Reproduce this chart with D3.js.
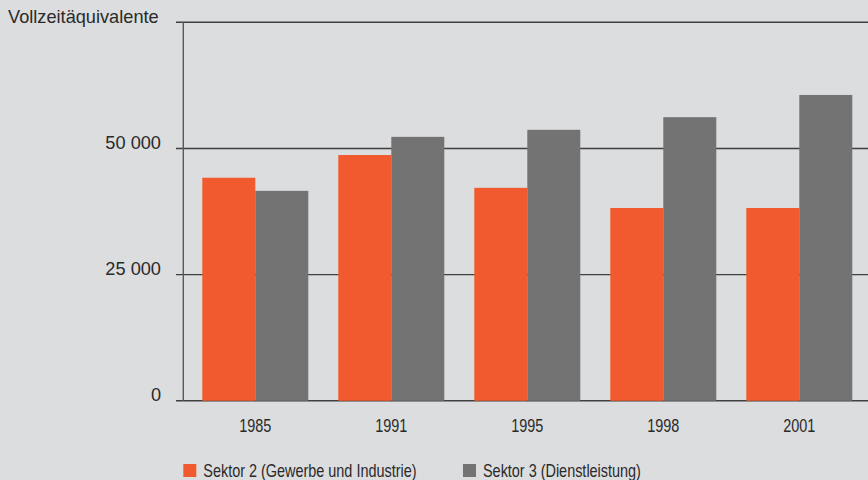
<!DOCTYPE html>
<html>
<head>
<meta charset="utf-8">
<script src="https://cdn.jsdelivr.net/npm/d3@7"></script>
<style>
  html, body { margin: 0; padding: 0; background: #dcdddf; }
  svg { display: block; }
  .tick-label { font-family: "Liberation Sans", Arial, sans-serif; font-size: 18.2px; fill: #2a2a2a; }
  .cond { font-family: "Liberation Sans", Arial, sans-serif; font-size: 18.5px; fill: #2a2a2a; }
</style>
</head>
<body>
<svg id="chart" width="868" height="480"></svg>
<script>
// Beschäftigte in Vollzeitäquivalenten nach Sektor
const years = ["1985", "1991", "1995", "1998", "2001"];
const sektor2 = [44200, 48700, 42200, 38200, 38200];
const sektor3 = [41600, 52300, 53700, 56200, 60600];
const yTicks = [0, 25000, 50000, 75000];
const seriesNames = ["Sektor 2 (Gewerbe und Industrie)", "Sektor 3 (Dienstleistung)"];
const seriesColors = ["#f15a2e", "#737373"];

const svg = d3.select("#chart");
const W = 868;
const x0 = 183.3, yBase = 400.8, yTop = 22.3;
const condense = 0.78; // schmale Schrift für Jahre und Legende

const y = d3.scaleLinear().domain([0, 75000]).range([yBase, yTop]);
const step = 136, gap = 30, lead = 19;
const x = d3.scaleBand().domain(years)
  .range([x0 + lead, x0 + lead + years.length * step - gap])
  .paddingInner(gap / step).paddingOuter(0);
const xs = d3.scaleBand().domain([0, 1]).range([0, x.bandwidth()]);

const fmt = v => d3.format(",")(v).replace(/,/g, " ");

// Gitterlinien mit kurzen Ticks links der Achse
svg.append("g").selectAll("line").data(yTicks).join("line")
  .attr("x1", 176).attr("x2", W)
  .attr("y1", d => y(d)).attr("y2", d => y(d))
  .attr("stroke", "#3f3f41").attr("stroke-width", 1.4);

// Beschriftung der y-Achse (oberste Linie ohne Zahl)
svg.append("g").selectAll("text").data(yTicks.filter(d => d < 75000)).join("text")
  .attr("class", "tick-label")
  .attr("x", 161).attr("y", d => y(d) + 0.5)
  .attr("text-anchor", "end")
  .text(d => fmt(d));

svg.append("text").attr("class", "tick-label")
  .attr("x", 8).attr("y", 23).text("Vollzeitäquivalente");

// Balken
const groups = svg.append("g").selectAll("g").data(years).join("g")
  .attr("transform", d => `translate(${x(d)},0)`);
groups.selectAll("rect")
  .data((d, i) => [sektor2[i], sektor3[i]])
  .join("rect")
  .attr("x", (d, j) => xs(j))
  .attr("width", xs.bandwidth())
  .attr("y", d => y(d))
  .attr("height", d => yBase - y(d))
  .attr("fill", (d, j) => seriesColors[j]);

// y-Achse
svg.append("line")
  .attr("x1", x0).attr("x2", x0).attr("y1", yTop).attr("y2", yBase)
  .attr("stroke", "#5a5a5c").attr("stroke-width", 1.4);

// x-Achsenbeschriftung
svg.append("g").selectAll("text").data(years).join("text")
  .attr("class", "cond")
  .attr("transform", d => `translate(${x(d) + x.bandwidth() / 2},432) scale(${condense},1)`)
  .attr("text-anchor", "middle")
  .text(d => d);

// Legende
const legendX = [183.3, 463];
const leg = svg.append("g").selectAll("g").data(seriesNames).join("g")
  .attr("transform", (d, i) => `translate(${legendX[i]},464)`);
leg.append("rect").attr("width", 13).attr("height", 13)
  .attr("fill", (d, i) => seriesColors[i]);
leg.append("text").attr("class", "cond")
  .attr("transform", `translate(20,12.5) scale(${condense},1)`)
  .text(d => d);
</script>
</body>
</html>
